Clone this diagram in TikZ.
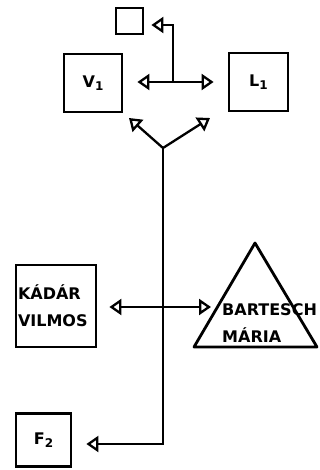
\documentclass[tikz,border=0pt]{standalone}
\usepackage{fontspec}
\setsansfont{DejaVu Sans}
\usetikzlibrary{arrows.meta}
\newcommand{\lowidx}[1]{\raisebox{-3pt}{\fontsize{12}{12}\selectfont #1}}
\tikzset{
  box/.style={draw, line width=2.8pt, inner sep=1pt},
  arr/.style={line width=2.3pt, -{Triangle[open,length=12pt,width=16pt]}},
  darr/.style={line width=2.3pt, {Triangle[open,length=12pt,width=16pt]}-{Triangle[open,length=12pt,width=16pt]}},
}

\begin{document}
\begin{tikzpicture}[x=1pt,y=-1pt,font=\sffamily\bfseries\fontsize{16}{27}\selectfont]
\useasboundingbox (0,0) rectangle (320,470);
% boxes
\node[box, minimum width=27pt, minimum height=26pt] (small) at (129.5,21) {};
\node[box, minimum width=58pt, minimum height=58pt] (V1) at (93,83) {V\lowidx{1}};
\node[box, minimum width=59pt, minimum height=58pt] (L1) at (258.5,82) {L\lowidx{1}};
\node[box, minimum width=80pt, minimum height=82pt, text width=76pt, align=left] (kadar) at (56,306) {KÁDÁR\\VILMOS};
\node[box, minimum width=55pt, minimum height=53pt] (F2) at (43.5,440) {F\lowidx{2}};
% triangle
\draw[line width=2.8pt, line join=round] (194,347) -- (255,243) -- (317,347) -- cycle;
\node[align=left, anchor=west, inner sep=0pt] (bartesch) at (222,323) {BARTESCH\\MÁRIA};
% connectors
\coordinate (mid) at (173,82);
\coordinate (fork) at (163,148);
\coordinate (ytipl) at (129,118);
\coordinate (ytipr) at (210,118);
\coordinate (bartip) at (211,307);
\draw[darr, shorten <=14pt, shorten >=14pt] (V1.east |- mid) -- (L1);
\draw[arr] (mid) |- ([xshift=7pt,yshift=-4pt]small.east);
\draw[arr] (fork) -- (ytipl);
\draw[arr] (fork) -- (ytipr);
\draw[darr, shorten <=12pt] ([yshift=-1pt]kadar.east) -- (bartip);
\draw[arr, line join=miter] (fork) |- ([xshift=14pt,yshift=-4pt]F2.east);
\end{tikzpicture}
\end{document}
